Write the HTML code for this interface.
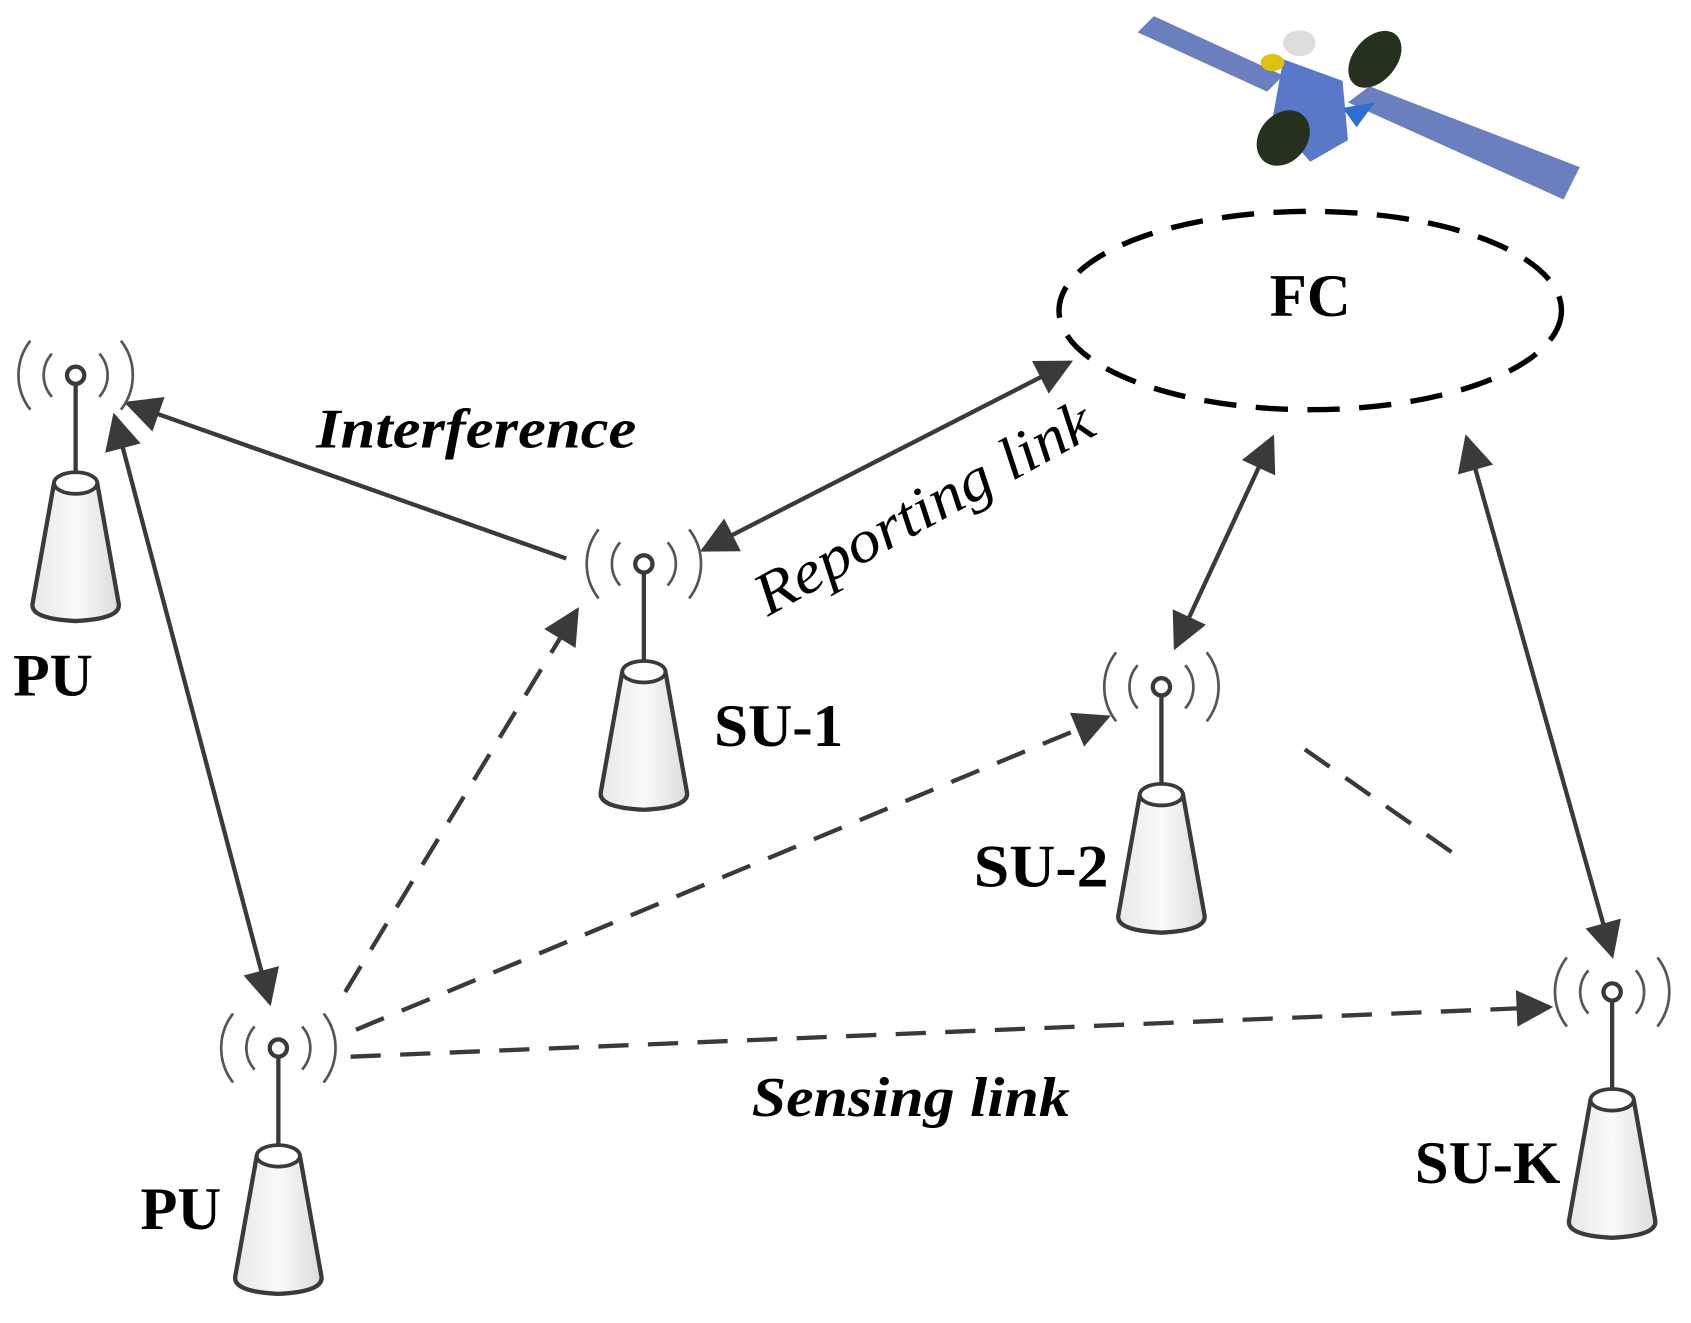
<!DOCTYPE html>
<html><head><meta charset="utf-8"><style>
html,body{margin:0;padding:0;background:#fff;}
svg{display:block;}
text{font-family:"Liberation Serif",serif;fill:#000;}
</style></head><body>
<svg width="1691" height="1323" viewBox="0 0 1568 1227" xmlns="http://www.w3.org/2000/svg">
<defs>
<marker id="ah" viewBox="0 0 10 10" refX="9" refY="5" markerWidth="11" markerHeight="8.5" markerUnits="strokeWidth" orient="auto-start-reverse">
<path d="M0,0 L10,5 L0,10 z" fill="#3a3a3a"/>
</marker>
<linearGradient id="cg" x1="0" x2="1"><stop offset="0" stop-color="#e8e8e8"/><stop offset="0.5" stop-color="#fafafa"/><stop offset="1" stop-color="#dcdcdc"/></linearGradient>
<g id="ant">
<circle cx="0" cy="0" r="8" fill="#fff" stroke="#3a3a3a" stroke-width="4"/>
<path d="M-22,-20 A30,30 0 0 0 -22,20 M22,-20 A30,30 0 0 1 22,20 M-42,-32 A52,52 0 0 0 -42,32 M42,-32 A52,52 0 0 1 42,32" fill="none" stroke="#555" stroke-width="2.5"/>
<line x1="0" y1="8" x2="0" y2="96" stroke="#3a3a3a" stroke-width="4"/>
<path d="M-20,100 L-40,212 Q-42,226 0,228 Q42,226 40,212 L20,100 Z" fill="url(#cg)" stroke="#3a3a3a" stroke-width="4"/>
<ellipse cx="0" cy="100" rx="20" ry="10" fill="#fff" stroke="#3a3a3a" stroke-width="3.5"/>
</g>
</defs>

<!-- satellite -->
<g>
<polygon points="1055,30 1070,15 1190,70 1175,85" fill="#6b7fbf"/>
<polygon points="1250,95 1270,80 1465,155 1450,185" fill="#6b7fbf"/>
<polygon points="1190,55 1245,75 1250,130 1215,150 1180,110" fill="#5a78c8"/>
<polygon points="1245,100 1275,95 1258,118" fill="#2f6fd0"/>
<ellipse cx="1275" cy="55" rx="20" ry="30" transform="rotate(40 1275 55)" fill="#26301f"/>
<ellipse cx="1190" cy="128" rx="22" ry="28" transform="rotate(40 1190 128)" fill="#26301f"/>
<ellipse cx="1180" cy="58" rx="11" ry="8" fill="#e0c010"/>
<ellipse cx="1205" cy="40" rx="15" ry="12" fill="#ddd"/>
</g>

<!-- FC -->
<ellipse cx="1215" cy="288" rx="233" ry="92" fill="none" stroke="#000" stroke-width="5" stroke-dasharray="30,18"/>
<text x="1215" y="293" font-size="56" font-weight="bold" text-anchor="middle" textLength="75" lengthAdjust="spacingAndGlyphs">FC</text>

<!-- solid arrows -->
<g stroke="#3a3a3a" stroke-width="4" fill="none">
<line x1="525" y1="518" x2="118" y2="374" marker-end="url(#ah)"/>
<line x1="106" y1="386" x2="250" y2="930" marker-start="url(#ah)" marker-end="url(#ah)"/>
<line x1="992" y1="336" x2="652" y2="510" marker-start="url(#ah)" marker-end="url(#ah)"/>
<line x1="1180" y1="406" x2="1090" y2="600" marker-start="url(#ah)" marker-end="url(#ah)"/>
<line x1="1360" y1="406" x2="1495" y2="886" marker-start="url(#ah)" marker-end="url(#ah)"/>
</g>
<!-- dashed -->
<g stroke="#3a3a3a" stroke-width="4" fill="none" stroke-dasharray="28,18">
<line x1="320" y1="920" x2="535" y2="566" marker-end="url(#ah)"/>
<line x1="330" y1="955" x2="1027" y2="665" marker-end="url(#ah)"/>
<line x1="325" y1="980" x2="1437" y2="934" marker-end="url(#ah)"/>
<line x1="1210" y1="695" x2="1360" y2="800"/>
</g>

<use href="#ant" x="70" y="348"/>
<use href="#ant" x="597" y="523"/>
<use href="#ant" x="1077" y="637"/>
<use href="#ant" x="1495" y="920"/>
<use href="#ant" x="258" y="972"/>

<g font-size="56" font-weight="bold">
<text x="12" y="645" textLength="74" lengthAdjust="spacingAndGlyphs">PU</text>
<text x="662" y="692" textLength="120" lengthAdjust="spacingAndGlyphs">SU-1</text>
<text x="903" y="822" textLength="125" lengthAdjust="spacingAndGlyphs">SU-2</text>
<text x="1312" y="1097" textLength="135" lengthAdjust="spacingAndGlyphs">SU-K</text>
<text x="130" y="1140" textLength="75" lengthAdjust="spacingAndGlyphs">PU</text>
</g>
<text x="293" y="415" font-size="52" font-weight="bold" font-style="italic" textLength="297" lengthAdjust="spacingAndGlyphs">Interference</text>
<text x="697" y="1035" font-size="52" font-weight="bold" font-style="italic" textLength="295" lengthAdjust="spacingAndGlyphs">Sensing link</text>
<text transform="translate(712,572) rotate(-29)" font-size="56" font-style="italic" textLength="350" lengthAdjust="spacingAndGlyphs">Reporting link</text>
</svg>
</body></html>
